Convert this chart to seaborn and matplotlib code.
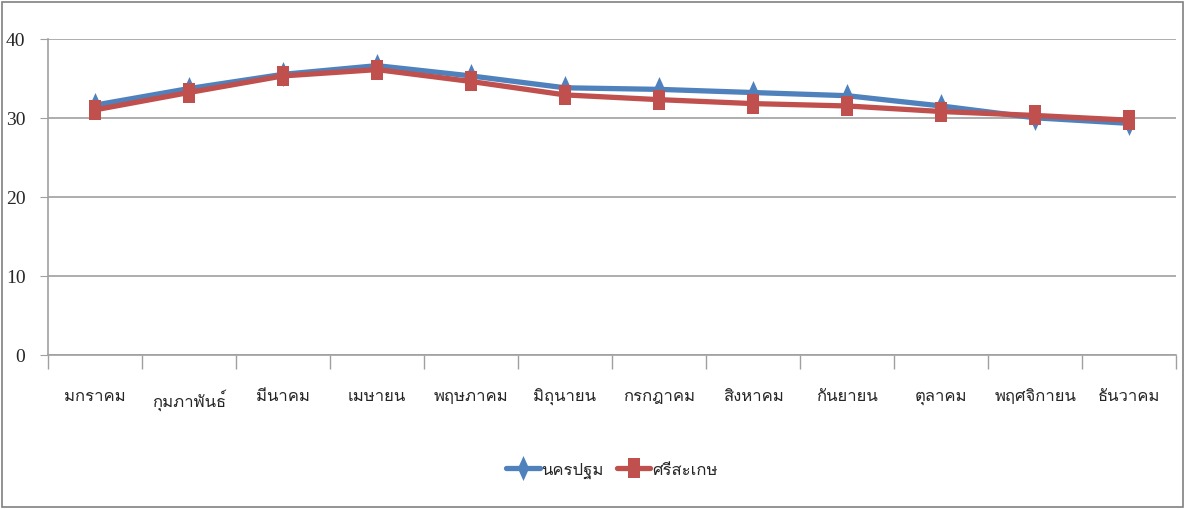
import matplotlib
matplotlib.use("Agg")
import matplotlib.pyplot as plt
import seaborn as sns
import pandas as pd
import numpy as np
from matplotlib import font_manager, ft2font
from matplotlib.ticker import FixedLocator

# data
months = ['มกราคม', 'กุมภาพันธ์', 'มีนาคม', 'เมษายน', 'พฤษภาคม', 'มิถุนายน',
          'กรกฎาคม', 'สิงหาคม', 'กันยายน', 'ตุลาคม', 'พฤศจิกายน', 'ธันวาคม']
nakhon_pathom = [31.6, 33.7, 35.5, 36.6, 35.3, 33.8, 33.6, 33.2, 32.8, 31.5, 30.0, 29.3]
sisaket = [31.0, 33.2, 35.3, 36.1, 34.6, 32.9, 32.3, 31.8, 31.5, 30.8, 30.3, 29.7]
series_names = ['นครปฐม', 'ศรีสะเกษ']
y_ticks = [0, 10, 20, 30, 40]

# find some installed font that has thai glyphs
thai_font = None
for f in font_manager.fontManager.ttflist:
    try:
        if 0x0E01 in ft2font.FT2Font(f.fname).get_charmap():
            thai_font = f.name
            break
    except Exception:
        pass

sns.set_style("white")
families = ['DejaVu Sans']
if thai_font:
    families = [thai_font, 'DejaVu Sans']
plt.rcParams['font.family'] = families

df = pd.DataFrame({
    'month': months * 2,
    'value': nakhon_pathom + sisaket,
    'series': [series_names[0]] * 12 + [series_names[1]] * 12,
})

tall_diamond = [(0, 1), (0.45, 0), (0, -1), (-0.45, 0), (0, 1)]
tall_square = [(-0.62, -1), (0.62, -1), (0.62, 1), (-0.62, 1), (-0.62, -1)]

fig = plt.figure(figsize=(11.93, 5.10), dpi=100)
ax = fig.add_axes([0.040, 0.302, 0.946, 0.620])

sns.lineplot(data=df[df.series == series_names[0]], x='month', y='value', sort=False,
             color='#4F81BD', linewidth=3.8, marker=tall_diamond, markersize=18,
             markeredgewidth=0, label=series_names[0], ax=ax)
sns.lineplot(data=df[df.series == series_names[1]], x='month', y='value', sort=False,
             color='#C0504D', linewidth=3.8, marker=tall_square, markersize=15,
             markeredgewidth=0, label=series_names[1], ax=ax)

ax.set_ylim(0, 40)
ax.set_xlim(-0.5, 11.5)
ax.set_yticks(y_ticks)
ax.set_yticklabels([str(v) for v in y_ticks], family='Liberation Serif', fontsize=14)
ax.yaxis.grid(True, color='#A0A0A0', linewidth=1.2)
ax.set_xlabel('')
ax.set_ylabel('')

ax.set_xticks(range(len(months)))
ax.set_xticklabels(months, fontsize=12)
ax.xaxis.set_minor_locator(FixedLocator(np.arange(-0.5, 12, 1)))
ax.tick_params(axis='x', which='major', length=0, pad=24)
ax.tick_params(axis='x', which='minor', length=10, color='#A0A0A0', width=1, bottom=True)
ax.tick_params(axis='y', length=6, color='#A0A0A0', left=True, pad=10)

for side in ['top', 'right']:
    ax.spines[side].set_visible(False)
for side in ['left', 'bottom']:
    ax.spines[side].set_color('#A0A0A0')
    ax.spines[side].set_linewidth(1.2)

ax.legend(loc='upper center', bbox_to_anchor=(0.5, -0.29), ncol=2, frameon=False,
          fontsize=12, handlelength=2.0, columnspacing=0.8, handletextpad=0.1)

# outer border of the chart
fig.patches.append(plt.Rectangle((0.002, 0.004), 0.99, 0.99, transform=fig.transFigure,
                                 fill=False, edgecolor='#808080', linewidth=1.2))

fig.savefig('out.png', dpi=100)
